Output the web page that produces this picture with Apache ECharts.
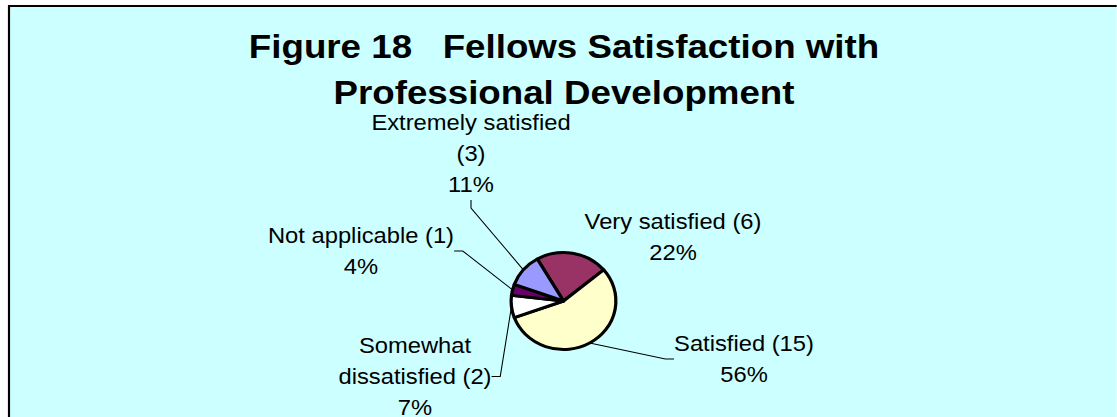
<!DOCTYPE html>
<html>
<head>
<meta charset="utf-8">
<title>Figure 18 Fellows Satisfaction with Professional Development</title>
<script src="https://cdn.jsdelivr.net/npm/echarts@6/dist/echarts.min.js"></script>
<style>
  html, body { margin: 0; padding: 0; background: #ffffff; overflow: hidden; }
  #wrap { width: 1117px; height: 417px; overflow: hidden; position: relative; }
  /* the chart is laid out narrower and widened slightly, so the pie reads as a flat ellipse */
  #chart { position: absolute; left: 0; top: 0; height: 417px; transform-origin: 0 0; }
</style>
</head>
<body>
<div id="wrap"><div id="chart"></div></div>
<script>
// Survey answers, in the order the slices are drawn (clockwise from the top-left)
const categories = ['Very satisfied', 'Satisfied', 'Somewhat dissatisfied', 'Not applicable', 'Extremely satisfied'];
const counts = [6, 15, 2, 1, 3];
const titleLines = ['Figure 18   Fellows Satisfaction with', 'Professional Development'];

// ---- styling ----
const SX = 1.08;                       // horizontal widening of the whole drawing
const W = 1117 / SX;
const chartEl = document.getElementById('chart');
chartEl.style.width = W + 'px';
chartEl.style.transform = 'scaleX(' + SX + ')';

const sliceColors = {
  'Very satisfied': '#993366',
  'Satisfied': '#FFFFCC',
  'Somewhat dissatisfied': '#FFFFFF',
  'Not applicable': '#660066',
  'Extremely satisfied': '#9999FF'
};
// where each label block sits: [centre x on the page, top y]
const labelPlace = {
  'Very satisfied': [673, 206],
  'Satisfied': [744, 328],
  'Somewhat dissatisfied': [415, 330],
  'Not applicable': [361, 220],
  'Extremely satisfied': [471, 107]
};
// how each label's first line is broken
const labelWrap = {
  'Extremely satisfied': (n, v) => n + '\n(' + v + ')',
  'Somewhat dissatisfied': (n, v) => n.replace(' ', '\n') + ' (' + v + ')'
};
const noLeader = { 'Very satisfied': true };

const FONT = '"Liberation Sans", Arial, Helvetica, sans-serif';

const chart = echarts.init(chartEl, null, { renderer: 'svg', width: W, height: 417 });

chart.setOption({
  animation: false,
  backgroundColor: '#ffffff',
  graphic: [{
    type: 'rect',
    silent: true,
    z: -10,
    shape: { x: 9 / SX, y: 6, width: 1200, height: 500 },
    style: { fill: '#CCFFFF', stroke: '#000000', lineWidth: 2 }
  }, {
    type: 'text',
    silent: true,
    x: 564 / SX,
    y: 22,
    style: {
      text: titleLines.join('\n'),
      fontFamily: FONT,
      fontSize: 34,
      fontWeight: 'bold',
      fill: '#000000',
      lineHeight: 47,
      align: 'center',
      verticalAlign: 'top'
    }
  }],
  series: [{
    type: 'pie',
    center: [563.5 / SX, 301],
    radius: 48.5,
    startAngle: 120,
    clockwise: true,
    silent: true,
    avoidLabelOverlap: false,
    itemStyle: { borderColor: '#000000', borderWidth: 3 },
    label: {
      show: true,
      position: 'outside',
      fontFamily: FONT,
      fontSize: 22,
      lineHeight: 31,
      color: '#000000',
      align: 'center',
      formatter: function (p) {
        const wrap = labelWrap[p.name];
        const head = wrap ? wrap(p.name, p.value) : p.name + ' (' + p.value + ')';
        return head + '\n' + Math.round(p.percent) + '%';
      }
    },
    labelLine: {
      show: true,
      length: 8,
      length2: 8,
      lineStyle: { color: '#000000', width: 1 }
    },
    labelLayout: function (params) {
      const name = categories[params.dataIndex];
      const place = labelPlace[name];
      return {
        x: place[0] / SX,
        y: place[1],
        align: 'center',
        verticalAlign: 'top'
      };
    },
    data: categories.map((name, i) => ({
      name: name,
      value: counts[i],
      itemStyle: { color: sliceColors[name] },
      labelLine: { show: !noLeader[name] }
    }))
  }]
});
</script>
</body>
</html>
